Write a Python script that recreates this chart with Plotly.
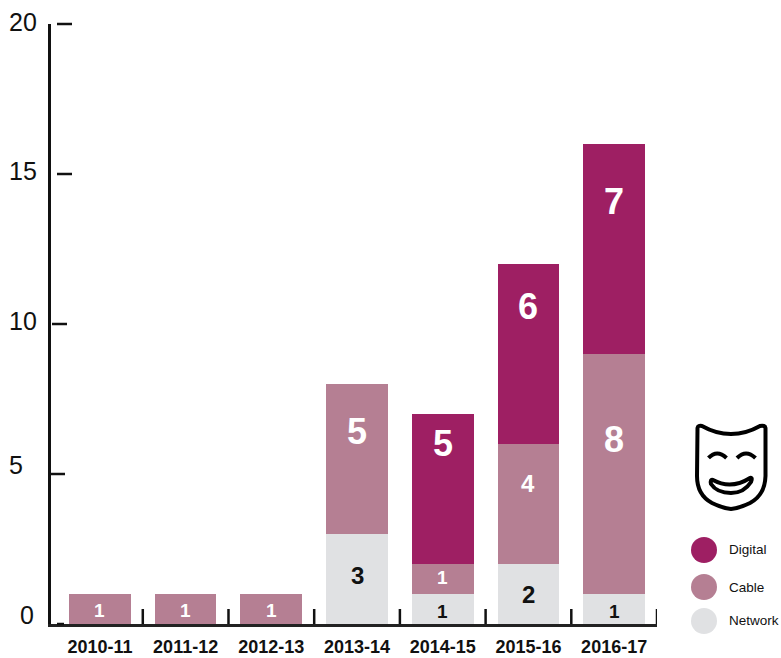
import plotly.graph_objects as go

seasons = ["2010-11", "2011-12", "2012-13", "2013-14", "2014-15", "2015-16", "2016-17"]
network = [0, 0, 0, 3, 1, 2, 1]
cable = [1, 1, 1, 5, 1, 4, 8]
digital = [0, 0, 0, 0, 5, 6, 7]
y_ticks = [0, 5, 10, 15, 20]
legend_names = ["Digital", "Cable", "Network"]

C_DIG, C_CAB, C_NET = "#9E1F63", "#B57F93", "#E0E1E3"
W, H = 781, 658
L, R, T, B = 51, 657, 24, 624
FONT = "Liberation Sans"

# pixel lift of each value label above its bar-segment centre (labels sit high in the reference)
lift_network = [0, 0, 0, 4, -2, 0, -2]
lift_cable = [-1, -1, -1, 28, 2, 21, 35]
lift_digital = [0, 0, 0, 0, 46, 48, 48]

# hand-placed y tick dashes and labels of the reference, in pixels
dash_x = {0: (57, 64), 5: (50, 65), 10: (52, 67), 15: (57, 72), 20: (57, 72)}
label_cx = {0: 26.5, 5: 15.5, 10: 23, 15: 23, 20: 23}
label_lift = {0: 9, 5: 9, 10: 3, 15: 3, 20: 2}


def px(x):
    return (x - L) / (R - L)


def py(y):
    return (B - y) / (B - T)


def pth(s):
    out = []
    for tok in s.split():
        if "," in tok:
            a, b = tok.split(",")
            out.append(f"{px(float(a)):.5f},{py(float(b)):.5f}")
        else:
            out.append(tok)
    return " ".join(out)


def size_of(v):
    return 36 if v >= 5 else (24 if v >= 2 else 19)


fig = go.Figure()
annotations = []
base = [0] * len(seasons)
for name, vals, col, tcol, lift in [
    ("Network", network, C_NET, "#111111", lift_network),
    ("Cable", cable, C_CAB, "#FFFFFF", lift_cable),
    ("Digital", digital, C_DIG, "#FFFFFF", lift_digital),
]:
    fig.add_bar(x=seasons, y=vals, name=name, marker=dict(color=col, line_width=0))
    for i, v in enumerate(vals):
        if v:
            size = 24 if name == "Network" and v > 1 else size_of(v)
            annotations.append(dict(
                x=seasons[i], y=base[i] + v / 2, xref="x", yref="y", text=f"<b>{v}</b>", showarrow=False,
                yshift=lift[i], font=dict(family=FONT, color=tcol, size=size)))
        base[i] += v

shapes = []
# y tick dashes and labels, individually offset as in the reference
for v in y_ticks:
    x0, x1 = dash_x[v]
    shapes.append(dict(type="line", xref="paper", yref="paper", x0=px(x0), x1=px(x1),
                       y0=v / y_ticks[-1], y1=v / y_ticks[-1], line=dict(color="#111111", width=2.5)))
    annotations.append(dict(x=px(label_cx[v]), y=v, xref="paper", yref="y", text=str(v), showarrow=False,
                            xanchor="center", yshift=label_lift[v],
                            font=dict(family=FONT, size=25, color="#111111")))
# x ticks between categories
for i in range(len(seasons)):
    shapes.append(dict(type="line", xref="x", yref="paper", x0=i + 0.5, x1=i + 0.5, y0=0, y1=py(609),
                       line=dict(color="#111111", width=2.5)))
# legend swatches
for cy, col in zip([550, 587, 621], [C_DIG, C_CAB, C_NET]):
    shapes.append(dict(type="circle", xref="paper", yref="paper", x0=px(691), x1=px(717),
                       y0=py(cy + 13), y1=py(cy - 13), fillcolor=col, line_width=0))

# theatre mask icon
ink = dict(color="#000000", width=4)
mask = ("M 697.5,428 Q 698,425 702,426 Q 716,434 731,434 Q 746,434 760,426 Q 765,425 765.5,428 "
        "L 765.5,476 Q 765,495 750,503 Q 740,508 731,509 Q 722,508 712,503 Q 697,495 697,476 Z")
shapes.append(dict(type="path", xref="paper", yref="paper", path=pth(mask), line=ink))
for s in ["M 708.5,458 Q 717,449 726.5,458", "M 737,458 Q 746,449 755.5,458"]:
    shapes.append(dict(type="path", xref="paper", yref="paper", path=pth(s), line=ink))
mouth = "M 713,480 Q 731,490 750,478 Q 753,477 751,482 Q 744,493 731,493 Q 717,493 711,484 Q 710,479 713,480 Z"
shapes.append(dict(type="path", xref="paper", yref="paper", path=pth(mouth), line=ink))

annotations += [
    dict(x=px(727), y=py(cy), xref="paper", yref="paper", text=n, showarrow=False, xanchor="left",
         yanchor="middle", font=dict(family=FONT, size=13.5, color="#111111"))
    for n, cy in zip(legend_names, [549, 587, 620])
]

fig.update_layout(
    width=W, height=H, margin=dict(l=L, r=W - R, t=T, b=H - B, pad=0, autoexpand=False),
    barmode="stack", bargap=0.28, showlegend=False, plot_bgcolor="white", paper_bgcolor="white",
    shapes=shapes, annotations=annotations,
    xaxis=dict(type="category", range=[-0.571, 6.5], showgrid=False, zeroline=False, ticks="", automargin=False,
               showline=True, linecolor="#222222", linewidth=2.5, ticklabelstandoff=5,
               tickfont=dict(family=FONT, size=18, color="#111111", weight="bold")),
    yaxis=dict(range=[0, 20], tickvals=y_ticks, showticklabels=False, showgrid=False, zeroline=False, ticks="",
               showline=True, linecolor="#111111", linewidth=3, automargin=False),
)
fig.write_html("out.html", config={"displayModeBar": False}, post_script="document.body.style.margin='0';")
